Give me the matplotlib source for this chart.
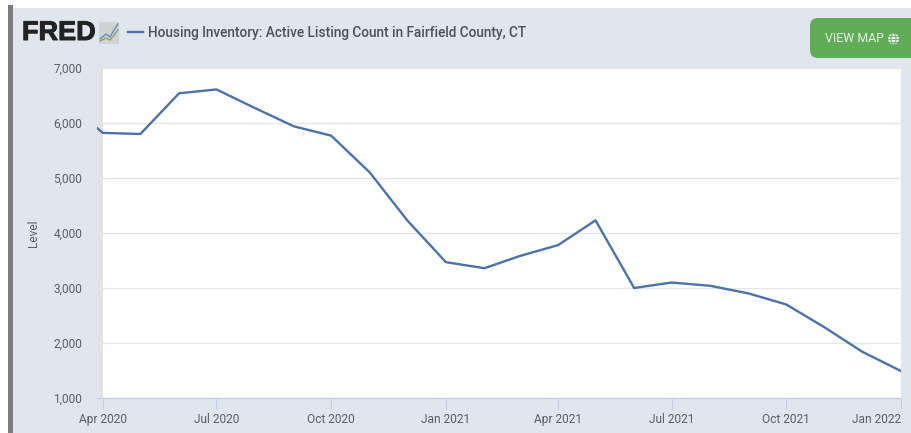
import datetime as dt
import matplotlib
matplotlib.use("Agg")
import matplotlib.dates as mdates
import matplotlib.pyplot as plt
import matplotlib.patches as mpatches
import matplotlib.patheffects as pe

W, H = 911, 433
C_PANEL = "#dfe6ee"
C_LINE = "#4c72a6"
C_TEXT = "#5a5f66"

months = [
    "2020-03", "2020-04", "2020-05", "2020-06", "2020-07", "2020-08", "2020-09",
    "2020-10", "2020-11", "2020-12", "2021-01", "2021-02", "2021-03", "2021-04",
    "2021-05", "2021-06", "2021-07", "2021-08", "2021-09", "2021-10", "2021-11",
    "2021-12", "2022-01",
]
listings = [
    6390, 5820, 5800, 6540, 6610, 6270, 5940,
    5770, 5100, 4230, 3470, 3360, 3580, 3780,
    4230, 3000, 3100, 3040, 2900, 2700, 2280,
    1840, 1490,
]
y_ticks = [1000, 2000, 3000, 4000, 5000, 6000, 7000]
x_ticks = ["2020-04", "2020-07", "2020-10", "2021-01", "2021-04", "2021-07", "2021-10", "2022-01"]
x_labels = ["Apr 2020", "Jul 2020", "Oct 2020", "Jan 2021", "Apr 2021", "Jul 2021", "Oct 2021", "Jan 2022"]
title = "Housing Inventory: Active Listing Count in Fairfield County, CT"


def month_date(s):
    return dt.datetime.strptime(s, "%Y-%m")


plt.rcParams["font.family"] = ["Roboto", "DejaVu Sans"]
fig = plt.figure(figsize=(W / 100, H / 100), dpi=100, facecolor="white")

# page chrome, in pixel coordinates
bg = fig.add_axes([0, 0, 1, 1], zorder=0)
bg.set_xlim(0, W)
bg.set_ylim(H, 0)
bg.axis("off")
bg.add_patch(mpatches.Rectangle((13, 8), W - 13, H - 8, fc=C_PANEL, ec="none"))
bg.add_patch(mpatches.Rectangle((8, 5), 5, H - 5, fc="#7b7b7b", ec="none"))

# chart
ax = fig.add_axes([97 / W, 1 - 398 / H, (901 - 97) / W, (398 - 68) / H], zorder=1)
ax.set_facecolor("white")
start = month_date("2020-04")
ax.set_xlim(start - dt.timedelta(days=4.8), month_date("2022-01"))
ax.set_ylim(1000, 7000)
ax.axvspan(start - dt.timedelta(days=4.8), start, color="#e3e3e3", lw=0, zorder=0)
ax.plot([month_date(m) for m in months], listings, color=C_LINE, lw=1.7, zorder=3)

ax.set_yticks(y_ticks)
ax.set_yticklabels([f"{v:,}" for v in y_ticks])
ax.set_xticks([mdates.date2num(month_date(m)) for m in x_ticks])
ax.set_xticklabels(x_labels)
ax.grid(axis="y", color="#e6e6e6", lw=1)
ax.set_axisbelow(True)
for side in ("top", "right", "left"):
    ax.spines[side].set_visible(False)
ax.spines["bottom"].set_color("#c3d0e4")
ax.spines["bottom"].set_linewidth(1)
ax.tick_params(axis="y", length=0, pad=10.5, labelsize=8.6, labelcolor=C_TEXT)
ax.tick_params(axis="x", length=8, width=0.8, color="#c3d0e4", pad=2.5, labelsize=8.6, labelcolor=C_TEXT)
labels = ax.get_xticklabels()
labels[-1].set_ha("right")
ax.set_ylabel("Level", fontsize=8.6, color=C_TEXT, labelpad=10)

# overlay with logo, legend and button
top = fig.add_axes([0, 0, 1, 1], zorder=2)
top.set_xlim(0, W)
top.set_ylim(H, 0)
top.axis("off")
top.patch.set_alpha(0)
top.text(22, 33, "FRED", fontsize=19.5, fontweight="bold", color="#222222", family="Liberation Sans",
         va="center", ha="left", path_effects=[pe.withStroke(linewidth=0.7, foreground="#222222")])
top.add_patch(mpatches.Rectangle((99, 22), 20, 22, fc="#cfd3d3", ec="none"))
top.plot([100, 106, 110, 114, 118], [39, 34, 37, 30, 24], color="#5b84b1", lw=0.9)
top.plot([100, 106, 110, 114, 118], [41, 38, 40, 35, 30], color="#7da05a", lw=0.9)
top.plot([128, 143], [32, 32], color=C_LINE, lw=1.7)
top.text(148, 33, title, fontsize=9.8, fontweight="medium", color="#4d5257", va="center", ha="left")

top.add_patch(mpatches.FancyBboxPatch((810, 18), 120, 40, boxstyle="round,pad=0,rounding_size=8",
                                      fc="#5fad56", ec="none"))
top.text(825, 39, "VIEW MAP", fontsize=8.9, color="#e6f2e4", va="center", ha="left")
top.add_patch(mpatches.Circle((893.5, 39), 5.5, fc="#e6f2e4", ec="none"))
for yy in (36, 39, 42):
    top.plot([888, 899], [yy, yy], color="#5fad56", lw=0.6)
top.add_patch(mpatches.Ellipse((893.5, 39), 5, 11, fc="none", ec="#5fad56", lw=0.6))

fig.savefig("out.png", dpi=100, facecolor=fig.get_facecolor())
plt.close()
